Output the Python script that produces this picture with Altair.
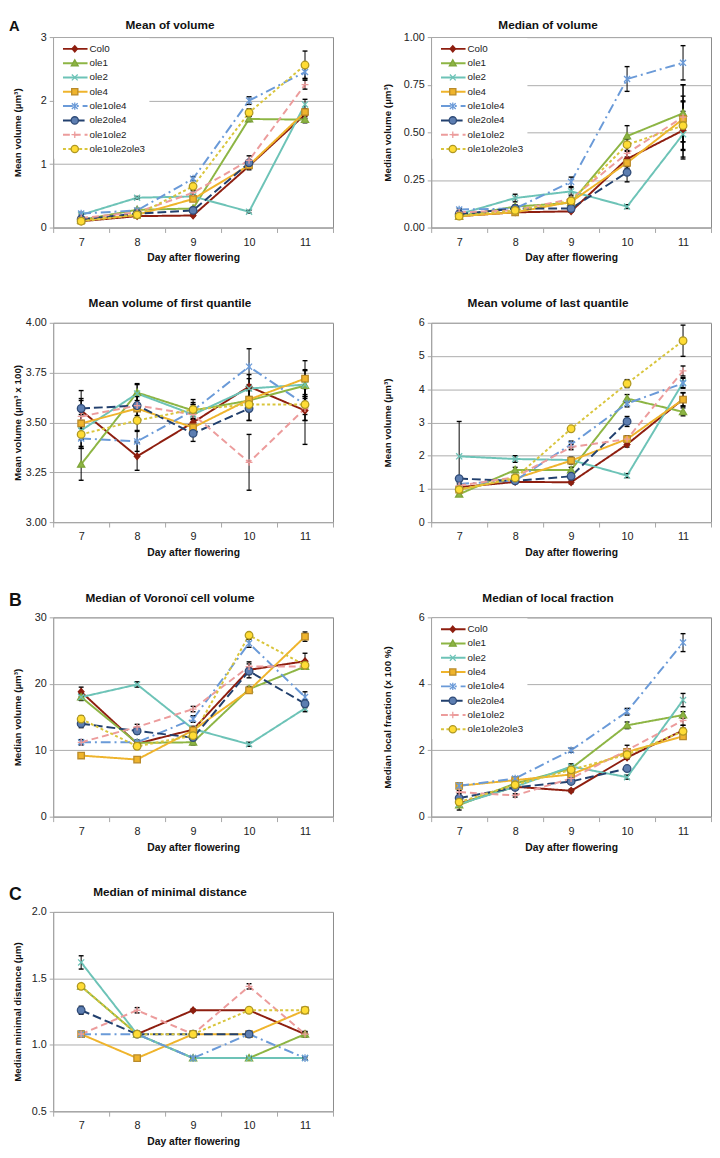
import json
import altair as alt
import pandas as pd

# ---------------- data ----------------
days = [7, 8, 9, 10, 11]
series = ["Col0", "ole1", "ole2", "ole4", "ole1ole4", "ole2ole4", "ole1ole2", "ole1ole2ole3"]

mean_volume = {
    "Col0": [0.10, 0.18, 0.19, 0.97, 1.78],
    "ole1": [0.12, 0.28, 0.30, 1.71, 1.70],
    "ole2": [0.20, 0.47, 0.49, 0.25, 1.94],
    "ole4": [0.11, 0.20, 0.45, 0.98, 1.82],
    "ole1ole4": [0.22, 0.27, 0.77, 2.00, 2.45],
    "ole2ole4": [0.13, 0.22, 0.27, 1.02, None],
    "ole1ole2": [0.15, 0.24, 0.55, 1.06, 2.25],
    "ole1ole2ole3": [0.10, 0.20, 0.65, 1.81, 2.56],
}
mean_volume_err = {
    "Col0": [0.01, 0.01, 0.01, 0.06, 0.06],
    "ole1": [0.01, 0.02, 0.02, 0.04, 0.05],
    "ole2": [0.02, 0.02, 0.02, 0.02, 0.08],
    "ole4": [0.01, 0.02, 0.03, 0.03, 0.05],
    "ole1ole4": [0.02, 0.02, 0.03, 0.06, 0.10],
    "ole2ole4": [0.01, 0.02, 0.02, 0.04, 0.05],
    "ole1ole2": [0.01, 0.02, 0.03, 0.07, 0.07],
    "ole1ole2ole3": [0.01, 0.02, 0.04, 0.06, 0.22],
}

median_volume = {
    "Col0": [0.06, 0.08, 0.085, 0.36, 0.51],
    "ole1": [0.06, 0.11, 0.13, 0.48, 0.60],
    "ole2": [0.07, 0.155, 0.19, 0.11, 0.49],
    "ole4": [0.06, 0.08, 0.135, 0.34, 0.57],
    "ole1ole4": [0.095, 0.10, 0.24, 0.78, 0.865],
    "ole2ole4": [0.07, 0.10, 0.10, 0.29, None],
    "ole1ole2": [0.08, 0.09, 0.15, 0.39, 0.58],
    "ole1ole2ole3": [0.06, 0.09, 0.14, 0.435, 0.535],
}
median_volume_err = {
    "Col0": [0.005, 0.005, 0.005, 0.04, 0.15],
    "ole1": [0.005, 0.01, 0.01, 0.055, 0.15],
    "ole2": [0.005, 0.02, 0.02, 0.01, 0.12],
    "ole4": [0.005, 0.01, 0.01, 0.03, 0.12],
    "ole1ole4": [0.005, 0.01, 0.025, 0.065, 0.09],
    "ole2ole4": [0.005, 0.01, 0.01, 0.05, 0.14],
    "ole1ole2": [0.005, 0.01, 0.01, 0.04, 0.17],
    "ole1ole2ole3": [0.005, 0.01, 0.01, 0.03, 0.13],
}

first_quantile = {
    "Col0": [3.56, 3.33, 3.50, 3.68, 3.56],
    "ole1": [3.29, 3.65, 3.56, 3.61, 3.685],
    "ole2": [3.46, 3.645, 3.54, 3.67, 3.69],
    "ole4": [3.495, 3.57, 3.475, 3.615, 3.72],
    "ole1ole4": [3.42, 3.405, 3.56, 3.78, 3.59],
    "ole2ole4": [3.57, 3.585, 3.445, 3.57, None],
    "ole1ole2": [3.53, 3.585, 3.54, 3.30, 3.57],
    "ole1ole2ole3": [3.44, 3.51, 3.565, 3.59, 3.59],
}
first_quantile_err = {
    "Col0": [0.06, 0.07, 0.05, 0.06, 0.17],
    "ole1": [0.08, 0.04, 0.03, 0.05, 0.08],
    "ole2": [0.08, 0.05, 0.04, 0.05, 0.07],
    "ole4": [0.08, 0.06, 0.04, 0.06, 0.09],
    "ole1ole4": [0.05, 0.05, 0.04, 0.09, 0.05],
    "ole2ole4": [0.09, 0.06, 0.04, 0.06, 0.07],
    "ole1ole2": [0.08, 0.05, 0.05, 0.14, 0.06],
    "ole1ole2ole3": [0.07, 0.05, 0.05, 0.08, 0.08],
}

last_quantile = {
    "Col0": [1.05, 1.21, 1.20, 2.34, 3.70],
    "ole1": [0.84, 1.57, 1.57, 3.72, 3.32],
    "ole2": [1.98, 1.90, 1.87, 1.40, 4.20],
    "ole4": [0.98, 1.31, 1.85, 2.50, 3.69],
    "ole1ole4": [1.15, 1.25, 2.34, 3.57, 4.18],
    "ole2ole4": [1.31, 1.24, 1.38, 3.03, None],
    "ole1ole2": [1.10, 1.35, 2.26, 2.50, 4.55],
    "ole1ole2ole3": [0.98, 1.33, 2.81, 4.17, 5.46],
}
last_quantile_err = {
    "Col0": [0.05, 0.05, 0.05, 0.08, 0.20],
    "ole1": [0.05, 0.08, 0.08, 0.12, 0.12],
    "ole2": [1.05, 0.10, 0.08, 0.06, 0.15],
    "ole4": [0.05, 0.08, 0.10, 0.10, 0.20],
    "ole1ole4": [0.05, 0.05, 0.10, 0.10, 0.15],
    "ole2ole4": [0.05, 0.05, 0.05, 0.15, 0.40],
    "ole1ole2": [0.05, 0.06, 0.08, 0.08, 0.15],
    "ole1ole2ole3": [0.05, 0.06, 0.06, 0.12, 0.47],
}

voronoi_volume = {
    "Col0": [18.8, 11.0, 13.1, 22.1, 23.4],
    "ole1": [18.0, 11.1, 11.2, 19.2, 22.6],
    "ole2": [18.0, 19.9, 13.2, 10.9, 16.3],
    "ole4": [9.2, 8.6, 13.0, 19.0, 27.1],
    "ole1ole4": [11.2, 11.2, 14.7, 26.1, 18.0],
    "ole2ole4": [14.0, 12.9, 11.9, 21.9, 17.0],
    "ole1ole2": [11.2, 13.5, 16.2, 22.6, 22.6],
    "ole1ole2ole3": [14.7, 10.6, 12.2, 27.3, 22.8],
}
voronoi_volume_err = {
    "Col0": [0.7, 0.4, 0.4, 1.2, 1.2],
    "ole1": [0.5, 0.4, 0.4, 0.4, 0.4],
    "ole2": [0.5, 0.4, 0.4, 0.3, 0.5],
    "ole4": [0.4, 0.3, 0.4, 0.4, 0.7],
    "ole1ole4": [0.4, 0.3, 0.5, 0.6, 0.8],
    "ole2ole4": [0.6, 0.5, 0.5, 0.5, 0.6],
    "ole1ole2": [0.3, 0.4, 0.4, 0.4, 0.4],
    "ole1ole2ole3": [0.5, 0.4, 0.4, 0.4, 0.6],
}

local_fraction = {
    "Col0": [0.40, 0.90, 0.78, 1.78, 2.60],
    "ole1": [0.35, 1.00, 1.45, 2.75, 3.06],
    "ole2": [0.38, 0.90, 1.51, 1.19, 3.51],
    "ole4": [0.93, 1.10, 1.27, 1.95, 2.42],
    "ole1ole4": [0.93, 1.15, 2.00, 3.16, 5.24],
    "ole2ole4": [0.56, 0.88, 1.06, 1.45, None],
    "ole1ole2": [0.74, 0.64, 1.15, 2.00, 2.90],
    "ole1ole2ole3": [0.44, 0.96, 1.41, 1.87, 2.57],
}
local_fraction_err = {
    "Col0": [0.20, 0.05, 0.05, 0.05, 0.15],
    "ole1": [0.05, 0.05, 0.10, 0.10, 0.10],
    "ole2": [0.05, 0.05, 0.08, 0.06, 0.20],
    "ole4": [0.05, 0.05, 0.05, 0.06, 0.08],
    "ole1ole4": [0.05, 0.05, 0.06, 0.10, 0.27],
    "ole2ole4": [0.05, 0.05, 0.05, 0.05, 0.20],
    "ole1ole2": [0.05, 0.05, 0.05, 0.15, 0.15],
    "ole1ole2ole3": [0.05, 0.05, 0.05, 0.05, 0.10],
}

minimal_distance = {
    "Col0": [None, 1.08, 1.26, 1.26, 1.08],
    "ole1": [1.44, 1.08, 0.90, 0.90, 1.08],
    "ole2": [1.62, 1.08, 0.90, 0.90, 0.90],
    "ole4": [1.08, 0.90, 1.08, 1.08, 1.26],
    "ole1ole4": [1.08, 1.08, 0.90, 1.08, 0.90],
    "ole2ole4": [1.26, 1.08, 1.08, 1.08, None],
    "ole1ole2": [1.08, 1.26, 1.08, 1.44, 1.08],
    "ole1ole2ole3": [1.44, 1.08, 1.08, 1.26, 1.26],
}
minimal_distance_err = {
    "Col0": [0.02, 0.01, 0.01, 0.01, 0.02],
    "ole1": [0.02, 0.01, 0.01, 0.01, 0.01],
    "ole2": [0.05, 0.01, 0.01, 0.01, 0.01],
    "ole4": [0.02, 0.01, 0.01, 0.01, 0.02],
    "ole1ole4": [0.02, 0.01, 0.01, 0.01, 0.01],
    "ole2ole4": [0.03, 0.01, 0.01, 0.01, 0.01],
    "ole1ole2": [0.02, 0.02, 0.01, 0.02, 0.02],
    "ole1ole2ole3": [0.02, 0.01, 0.01, 0.01, 0.02],
}

# ---------------- styles ----------------
FONT = "Liberation Sans"
line_colors = ["#8E1E0F", "#8DB544", "#6DC3B7", "#EFB42C", "#6A9AD8", "#22406E", "#EC9C9C", "#D9C53C"]
marker_fills = ["#8E1E0F", "#8DB544", "#6DC3B7", "#EFB42C", "#6A9AD8", "#5D7EB1", "#EC9C9C", "#FFDC35"]
marker_strokes = ["#8E1E0F", "#7FA53A", "#6DC3B7", "#B98A2A", "#6A9AD8", "#2F4B78", "#EC9C9C", "#AE9722"]
dash_styles = [[1, 0], [1, 0], [1, 0], [1, 0], [10, 4, 2, 4], [9, 4], [7, 4], [3, 2.5]]

CIRCLE = "M-1,0A1,1 0 1,1 1,0A1,1 0 1,1 -1,0Z"
plot_markers = [
    "M0,-0.85L0.75,0L0,0.85L-0.75,0Z",
    "M0,-0.95L0.95,0.75L-0.95,0.75Z",
    "M-0.8,-0.8L0.8,0.8M-0.8,0.8L0.8,-0.8",
    "M-0.85,-0.85H0.85V0.85H-0.85Z",
    "M-0.8,-0.8L0.8,0.8M-0.8,0.8L0.8,-0.8M0,-1V1",
    CIRCLE,
    "M-0.9,0H0.9M0,-0.9V0.9",
    CIRCLE,
]


def lookup_expr(values):
    return json.dumps(dict(zip(series, values))) + "[datum.series]"


def styled(chart):
    return chart.transform_calculate(
        sd=lookup_expr(dash_styles), lc=lookup_expr(line_colors),
        mk=lookup_expr(plot_markers), fc=lookup_expr(marker_fills), sc=lookup_expr(marker_strokes),
    )


def marker_encoding():
    return dict(
        shape=alt.Shape("mk:N", scale=None),
        fill=alt.Fill("fc:N", scale=None),
        stroke=alt.Stroke("sc:N", scale=None),
    )


def text_layer(txt, x, y, size, align, baseline):
    return alt.Chart(pd.DataFrame({"t": [txt]})).mark_text(
        font=FONT, fontSize=size, fontWeight="bold", align=align, baseline=baseline, color="#111"
    ).encode(text="t:N", x=alt.value(x), y=alt.value(y))


def legend_group():
    lbase = styled(alt.Chart(pd.DataFrame({"series": series})))
    ly = alt.Y("series:N", axis=None,
               scale=alt.Scale(type="point", domain=series, range=[12, 114], padding=0))
    bg = alt.Chart(pd.DataFrame({"b": [0]})).mark_rect(fill="white", strokeWidth=0).encode(
        x=alt.value(1), x2=alt.value(98), y=alt.value(1), y2=alt.value(124))
    seg = lbase.mark_rule(strokeWidth=2).encode(
        x=alt.value(10), x2=alt.value(35), y=ly,
        stroke=alt.Stroke("lc:N", scale=None), strokeDash=alt.StrokeDash("sd:N", scale=None))
    mk = lbase.mark_point(filled=True, size=55, strokeWidth=1.3, opacity=1).encode(
        x=alt.value(22), y=ly, **marker_encoding())
    lab = lbase.mark_text(font=FONT, fontSize=10, align="left", baseline="middle", color="#222").encode(
        x=alt.value(37), y=ly, text="series:N")
    return alt.layer(bg, seg, mk, lab)


def make_panel(title, ytitle, vals, errs, ydomain, yticks, yfmt, col,
               legend=False, letter=None, title_y=-20, letter_size=18, letter_y=-26, height=203):
    df = pd.DataFrame([
        {"day": d, "series": s, "v": v, "e": e}
        for s in series for d, v, e in zip(days, vals[s], errs[s])
    ])
    base = alt.Chart(df).transform_filter("isValid(datum.v)")
    xenc = alt.X("day:O", bandPosition=0.5,
                 scale=alt.Scale(type="band", paddingInner=0, paddingOuter=0),
                 axis=alt.Axis(title="Day after flowering", labelAngle=0, tickBand="extent"))
    yscale = alt.Scale(domain=ydomain, nice=False, zero=False)
    yaxis = alt.Axis(title=ytitle, values=yticks, format=yfmt,
                     minExtent=25 if col == 0 else 26, maxExtent=25 if col == 0 else 26,
                     titlePadding=6 if col == 0 else 13)

    def yenc(field):
        return alt.Y(field, type="quantitative", scale=yscale, axis=yaxis)

    lines = styled(base).mark_line(strokeWidth=2).encode(
        x=xenc, y=yenc("v"),
        stroke=alt.Stroke("series:N", scale=alt.Scale(domain=series, range=line_colors), legend=None),
        strokeDash=alt.StrokeDash("sd:N", scale=None),
    )
    eb = base.transform_calculate(lo="datum.v - datum.e", hi="datum.v + datum.e")
    rule = eb.mark_rule(color="black", strokeWidth=1).encode(x=xenc, y=yenc("lo"), y2=alt.Y2("hi:Q"))
    cap_lo = eb.mark_tick(color="black", size=5, thickness=1.4, opacity=1).encode(x=xenc, y=yenc("lo"))
    cap_hi = eb.mark_tick(color="black", size=5, thickness=1.4, opacity=1).encode(x=xenc, y=yenc("hi"))
    pts = styled(base).mark_point(filled=True, size=60, strokeWidth=1.3, opacity=1).encode(
        x=xenc, y=yenc("v"), **marker_encoding())
    main = alt.layer(lines, rule, cap_lo, cap_hi, pts)

    layers = [main]
    if legend:
        layers.append(legend_group())
    layers.append(text_layer(title, 119, title_y, 12, "center", "middle"))
    if letter:
        layers.append(text_layer(letter, -45, letter_y, letter_size, "left", "top"))
    panel = alt.layer(*layers)
    if legend:
        panel = panel.resolve_scale(y="independent")
    return panel.properties(width=285, height=height)


p1 = make_panel("Mean of volume", "Mean volume (µm³)", mean_volume, mean_volume_err,
                [0, 3], [0, 1, 2, 3], "d", 0, legend=True, letter="A",
                title_y=-12, letter_size=15, letter_y=-18, height=194)
p2 = make_panel("Median of volume", "Median volume (µm³)", median_volume, median_volume_err,
                [0, 1], [0, 0.25, 0.5, 0.75, 1], ".2f", 1, legend=True, title_y=-12, height=194)
p3 = make_panel("Mean volume of first quantile", "Mean volume (µm³ x 100)", first_quantile,
                first_quantile_err, [3, 4], [3, 3.25, 3.5, 3.75, 4], ".2f", 0)
p4 = make_panel("Mean volume of last quantile", "Mean volume (µm³)", last_quantile,
                last_quantile_err, [0, 6], [0, 1, 2, 3, 4, 5, 6], "d", 1)
p5 = make_panel("Median of Voronoï cell volume", "Median volume (µm³)", voronoi_volume,
                voronoi_volume_err, [0, 30], [0, 10, 20, 30], "d", 0, letter="B")
p6 = make_panel("Median of local fraction", "Median local fraction (x 100 %)", local_fraction,
                local_fraction_err, [0, 6], [0, 2, 4, 6], "d", 1, legend=True)
p7 = make_panel("Median of minimal distance", "Median minimal distance (µm)", minimal_distance,
                minimal_distance_err, [0.5, 2.0], [0.5, 1.0, 1.5, 2.0], ".1f", 0, letter="C")

chart = alt.concat(
    p1, p2, p3, p4, p5, p6, p7, columns=2, align="each", spacing={"row": 33, "column": 49}
).properties(
    padding={"left": 0, "top": 0, "right": 0, "bottom": 0}
).configure(
    font=FONT
).configure_view(
    stroke="#8a8a8a", strokeWidth=1
).configure_axis(
    labelFont=FONT, titleFont=FONT, labelFontSize=11, labelColor="#222", titleColor="#111",
    domainColor="#a6a6a6", tickColor="#a6a6a6", gridColor="#ababab", titleFontWeight="bold"
).configure_axisX(
    tickSize=5, labelPadding=4, titlePadding=6, titleFontSize=10.5, grid=False
).configure_axisY(
    tickSize=4, labelPadding=3, titleFontSize=10, grid=True
)

chart.save("out.html", embed_options={"renderer": "svg", "actions": False})
